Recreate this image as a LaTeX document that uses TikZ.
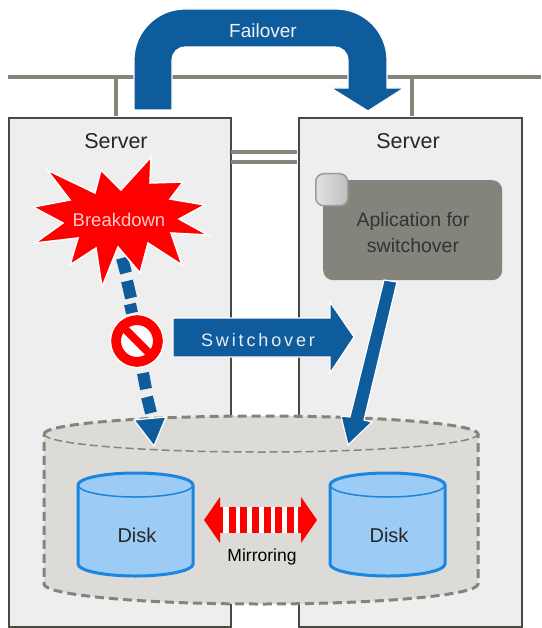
\documentclass[tikz,border=0pt]{standalone}
\usepackage{fontspec}
\setmainfont{Liberation Sans}
\usetikzlibrary{shadings}
\definecolor{bluearrow}{HTML}{0F5C9C}
\definecolor{netgray}{HTML}{85847A}
\definecolor{servergray}{HTML}{EEEEEF}
\definecolor{appgray}{HTML}{85847C}
\definecolor{drumgray}{HTML}{DCDBD7}
\definecolor{diskfill}{HTML}{9CCBF5}
\definecolor{diskline}{HTML}{1A86E0}
\tikzset{
  net/.style={draw=netgray,line width=4.5pt},
  serverbox/.style={draw=black!45!netgray,line width=2pt,fill=servergray},
  blueshape/.style={fill=bluearrow,draw=white,line width=1.2pt,line join=miter},
  srvlabel/.style={font=\fontsize{21.5}{24}\selectfont,text=black!85},
  applabel/.style={font=\fontsize{19.5}{26}\selectfont},
  drumline/.style={draw=netgray,line width=3pt,dash pattern=on 9pt off 5pt},
  diskbody/.style={fill=diskfill,draw=diskline,line width=3pt}
}
\begin{document}
\begin{tikzpicture}[x=1pt,y=-1pt]
\useasboundingbox (0,0) rectangle (541,628);
% network
\coordinate (netL) at (8,77);
\coordinate (netR) at (541,77);
\draw[net] (netL) -- (netR);
\node[serverbox,minimum width=222pt,minimum height=509pt,inner sep=0pt,anchor=north west] (srvA) at (8,117) {};
\node[serverbox,minimum width=223pt,minimum height=509pt,inner sep=0pt,anchor=north west] (srvB) at (298,117) {};
\draw[net] (116,77) -- (116,116);
\draw[net] (412,77) -- (412,116);
\draw[net,line width=3.5pt] (231,152) -- (297,152);
\draw[net,line width=3.5pt] (231,162) -- (297,162);
\node[srvlabel] (srvAlabel) at (116,141) {Server};
\node[srvlabel] (srvBlabel) at (408,141) {Server};
% failover arrow
\path[blueshape] (134,110) -- (134,60) arc[start angle=180,end angle=270,radius=51] -- (336,9)
  arc[start angle=-90,end angle=0,radius=51] -- (387,88) -- (404,88) -- (368,111) -- (331,88) -- (348,88) -- (348,60)
  arc[start angle=0,end angle=-90,radius=13] -- (185,47) arc[start angle=270,end angle=180,radius=13] -- (172,110) -- cycle;
\node[font=\fontsize{19}{20}\selectfont,text=white!92!bluearrow] (failover) at (263,31) {Failover};
% drum
\path[fill=drumgray] (44,434) arc[start angle=180,end angle=360,x radius=217,y radius=18] -- (478,584)
  arc[start angle=0,end angle=180,x radius=217,y radius=20] -- cycle;
\draw[drumline] (44,434) arc[start angle=180,end angle=360,x radius=217,y radius=18] -- (478,584)
  arc[start angle=0,end angle=180,x radius=217,y radius=20] -- cycle;
\draw[draw=netgray,line width=1.5pt,dash pattern=on 8pt off 4pt] (44,434) arc[start angle=180,end angle=0,x radius=217,y radius=18];
% disks
\path[diskbody] (78,485) arc[start angle=180,end angle=360,x radius=57.5,y radius=12] -- (193,564)
  arc[start angle=0,end angle=180,x radius=57.5,y radius=12] -- cycle;
\draw[draw=diskline,line width=1.5pt] (78,485) arc[start angle=180,end angle=0,x radius=57.5,y radius=12];
\path[diskbody] (330,485) arc[start angle=180,end angle=360,x radius=57.5,y radius=12] -- (445,564)
  arc[start angle=0,end angle=180,x radius=57.5,y radius=12] -- cycle;
\draw[draw=diskline,line width=1.5pt] (330,485) arc[start angle=180,end angle=0,x radius=57.5,y radius=12];
\node[font=\fontsize{20}{22}\selectfont,text=black!85] (diskA) at (137,535) {Disk};
\node[font=\fontsize{20}{22}\selectfont,text=black!85] (diskB) at (389,535) {Disk};
% app box
\node[fill=appgray,rounded corners=10pt,minimum width=179pt,minimum height=100pt,inner sep=0pt,anchor=north west] (app) at (323,180) {};
\node[applabel,align=center,text=black!80] (applabel) at (413,233) {Aplication for\\switchover};
\node[rounded corners=8pt,minimum width=32pt,minimum height=32pt,inner sep=0pt,draw=netgray!80,line width=1.5pt,
  left color=white!88!black,right color=black!25!white,anchor=north west] (tab) at (315,173) {};
% solid app arrow
\path[blueshape] (384,280) -- (397,282) -- (364,420) -- (372,422) -- (348,445) -- (341,416) -- (350,417) -- cycle;
% dashed arrow
\foreach \xa/\ya/\xb/\yb in {122/258/126/273, 127/281/131/298, 130/304/132/313, 143/373/146/389, 147/397/151/413}{
  \draw[draw=bluearrow,line width=12pt] (\xa,\ya) -- (\xb,\yb);
}
\path[blueshape] (134,420) -- (166,417) -- (154,446) -- cycle;
% breakdown star
\path[fill=red,draw=white,line width=1.5pt,line join=miter]
 (47,170) -- (95,193) -- (101,170) -- (121,190) -- (151,157) -- (150,183) -- (183,182) -- (170,199)
 -- (205,205) -- (179,219) -- (208,235) -- (171,233) -- (182,265) -- (148,243) -- (140,273) -- (118,247)
 -- (102,287) -- (96,248) -- (70,265) -- (78,238) -- (35,243) -- (63,223) -- (33,207) -- (70,200) -- cycle;
\node[font=\fontsize{18.5}{20}\selectfont,text=white!80!red] (breakdown) at (119,220) {Breakdown};
% prohibition sign
\node[circle,fill=white,draw=red,line width=10pt,minimum size=42pt,inner sep=0pt] (stop) at (137,341) {};
\draw[draw=red,line width=8pt] (125,329) -- (149,353);
\draw[draw=white,line width=1.2pt] (stop) circle[radius=26.5];
% switchover arrow
\path[blueshape] (173,318) -- (330,318) -- (330,302) -- (354,337) -- (330,373) -- (330,357) -- (173,357) -- cycle;
\node[font=\fontsize{18}{20}\selectfont,text=white!90!bluearrow] (switch) at (258,340) {\addfontfeature{LetterSpace=16}Switchover};
% mirror arrow
\path[fill=red] (204,520) -- (220,497) -- (220,543) -- cycle;
\path[fill=red] (317,520) -- (301,497) -- (301,543) -- cycle;
\fill[white] (220,507) rectangle (301,533);
\foreach \k in {0,...,5}{\fill[red] ({228.5+\k*11.7},507) rectangle ({235.5+\k*11.7},533);}
\fill[red] (220,507) rectangle (223,533);
\fill[red] (298,507) rectangle (301,533);
\node[font=\fontsize{17.5}{20}\selectfont,text=black] (mirror) at (262,557) {Mirroring};
\end{tikzpicture}
\end{document}
